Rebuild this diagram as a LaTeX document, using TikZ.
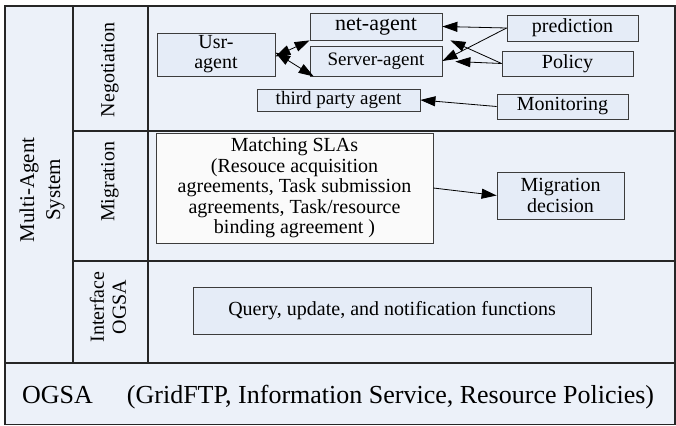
\documentclass[tikz,border=0pt]{standalone}
\usepackage{fontspec}
\setmainfont{Liberation Serif}
\usepackage{tikz}
\usetikzlibrary{arrows.meta, positioning}
\definecolor{panel}{RGB}{236,241,249}
\definecolor{boxfill}{RGB}{229,236,247}
\definecolor{slafill}{RGB}{250,250,250}
\definecolor{edgegray}{RGB}{60,60,60}
\newcommand\fsz[2]{\fontsize{#1}{#2}\selectfont}
\tikzset{
    frame/.style = {draw=black!85, line width=1.2pt}, % the layer lines of the panel
    box/.style = {draw=edgegray, fill=boxfill, line width=0.8pt, inner sep=0pt, align=center},
    lbl/.style = {rotate=90, align=center, inner sep=0pt}, % row titles, written upwards
    arr/.style = {-{Triangle[length=15pt,width=10pt]}, line width=0.8pt},
    dbl/.style = {{Triangle[length=15pt,width=10pt]}-{Triangle[length=15pt,width=10pt]}, line width=0.8pt}
}
\begin{document}
\begin{tikzpicture}[x=1pt, y=-1pt]
    \useasboundingbox (0,0) rectangle (676,425);
    % panel and layers
    \fill[panel] (5,6) rectangle (675,424.5);
    \draw[frame] (5,6) rectangle (675,424.5);
    \draw[frame] (73,6) -- (73,363);
    \draw[frame] (148,6) -- (148,363);
    \draw[frame] (73,131) -- (675,131);
    \draw[frame] (73,261) -- (675,261);
    \draw[frame] (5,363) -- (675,363);
    % row titles
    \node[lbl, font=\fsz{21}{26}] (mas) at (42,190) {Multi-Agent\\System};
    \node[lbl, font=\fsz{20}{22}] (neg) at (110,70) {Negotiation};
    \node[lbl, font=\fsz{20}{22}] (migl) at (110,182) {Migration};
    \node[lbl, font=\fsz{20}{22}] (intf) at (108,307) {Interface\\OGSA};
    % negotiation
    \node[box, minimum width=118pt, minimum height=43pt, font=\fsz{20}{20}] (usr) at (216,54.5) {Usr-\\agent};
    \node[box, minimum width=132pt, minimum height=27pt, font=\fsz{22}{24}] (net) at (376,26.5) {net-agent};
    \node[box, minimum width=132pt, minimum height=30pt, font=\fsz{19}{21}] (server) at (376,61) {Server-agent};
    \node[box, minimum width=131pt, minimum height=26pt, font=\fsz{20}{22}] (pred) at (572.5,28) {prediction};
    \node[box, minimum width=131pt, minimum height=25pt, font=\fsz{20}{22}] (policy) at (567.5,63.5) {Policy};
    \node[box, minimum width=163pt, minimum height=22pt, font=\fsz{19}{21}] (third) at (338.5,100) {third party agent};
    \node[box, minimum width=131pt, minimum height=25pt, font=\fsz{20}{22}] (monit) at (562.5,106.5) {Monitoring};
    \path[dbl] ([yshift=-2pt]usr.east) edge (net.south west);
    \path[dbl] ([yshift=2pt]usr.east) edge ([xshift=4pt]server.south west);
    \path[arr] (pred.west) edge (net.east);
    \path[arr] (pred.west) edge (server.east);
    \path[arr] (policy.west) edge ([xshift=8pt]net.south east);
    \path[arr, shorten >=13pt] (policy.west) edge (server.east);
    \path[arr] (monit.west) edge (third.east);
    % migration
    \node[box, fill=slafill, minimum width=277pt, minimum height=110pt, font=\fsz{20}{20.5}] (sla) at (294.5,188)
        {Matching SLAs\\(Resouce acquisition\\agreements, Task submission\\agreements, Task/resource\\binding agreement )};
    \node[box, minimum width=127pt, minimum height=47pt, font=\fsz{20}{21}] (mig) at (560.5,195.5) {Migration\\decision};
    \path[arr] (sla.east) edge (mig.west);
    % interface
    \node[box, minimum width=398pt, minimum height=47pt, font=\fsz{20}{22}] (query) at (392,310.5) {Query, update, and notification functions};
    % OGSA layer
    \node[anchor=base west, inner sep=0pt, font=\fsz{26}{30}] (ogsa) at (22,403) {OGSA\hspace{34pt}(GridFTP, Information Service, Resource Policies)};
\end{tikzpicture}
\end{document}
